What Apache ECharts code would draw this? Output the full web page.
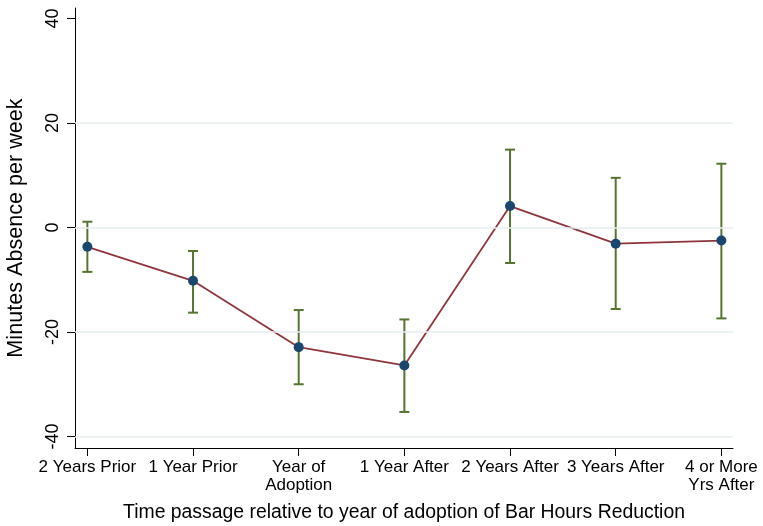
<!DOCTYPE html>
<html>
<head>
<meta charset="utf-8">
<script src="https://cdn.jsdelivr.net/npm/echarts@6/dist/echarts.min.js"></script>
<style>
  html, body { margin: 0; padding: 0; background: #fff; }
  #chart { width: 763px; height: 526px; }
</style>
</head>
<body>
<div id="chart"></div>
<script>
  const categories = ['2 Years Prior', '1 Year Prior', 'Year of\nAdoption', '1 Year After', '2 Years After', '3 Years After', '4 or More\nYrs After'];
  const estimates = [-3.7, -10.2, -22.9, -26.4, 4.1, -3.1, -2.5];
  const upperCI = [1.1, -4.5, -15.8, -17.6, 14.9, 9.5, 12.2];
  const lowerCI = [-8.5, -16.3, -30.0, -35.3, -6.8, -15.6, -17.4];
  const yTicks = [-40, -20, 0, 20, 40];
  const gridValues = [-40, -20, 0, 20];

  const positions = categories.map((c, i) => i);
  const font = 'Liberation Sans, Arial, sans-serif';

  const chart = echarts.init(document.getElementById('chart'));
  chart.setOption({
    animation: false,
    grid: { left: 75, right: 30, top: 8, bottom: 78, outerBoundsMode: 'none' },
    xAxis: {
      type: 'value',
      min: -0.117,
      max: 6.11,
      name: 'Time passage relative to year of adoption of Bar Hours Reduction',
      nameLocation: 'middle',
      nameGap: 55,
      nameTextStyle: { fontFamily: font, fontSize: 19.4, color: '#000' },
      axisLine: { onZero: false, lineStyle: { color: '#000', width: 1 } },
      axisTick: { customValues: positions, length: 8, lineStyle: { color: '#000' } },
      axisLabel: {
        customValues: positions,
        formatter: v => categories[Math.round(v)],
        fontFamily: font, fontSize: 17, color: '#000', lineHeight: 18, margin: 10
      },
      splitLine: { show: false }
    },
    yAxis: {
      type: 'value',
      min: -42.2,
      max: 42,
      name: 'Minutes Absence per week',
      nameLocation: 'middle',
      nameRotate: 90,
      nameGap: 48,
      nameTextStyle: { fontFamily: font, fontSize: 21.6, color: '#000' },
      axisLine: { show: true, onZero: false, lineStyle: { color: '#000', width: 1 } },
      axisTick: { show: true, customValues: yTicks, length: 8, lineStyle: { color: '#000' } },
      axisLabel: {
        customValues: yTicks,
        rotate: 90,
        fontFamily: font, fontSize: 18, color: '#000', margin: 13
      },
      splitLine: { show: false }
    },
    series: [
      {
        type: 'custom',
        z: 2,
        data: positions.map(i => [i, lowerCI[i], upperCI[i]]),
        renderItem: (params, api) => {
          const lo = api.coord([api.value(0), api.value(1)]);
          const hi = api.coord([api.value(0), api.value(2)]);
          const cap = 5;
          const style = { stroke: '#55752F', lineWidth: 2 };
          return {
            type: 'group',
            children: [
              { type: 'line', shape: { x1: lo[0], y1: lo[1], x2: hi[0], y2: hi[1] }, style },
              { type: 'line', shape: { x1: lo[0] - cap, y1: lo[1], x2: lo[0] + cap, y2: lo[1] }, style },
              { type: 'line', shape: { x1: hi[0] - cap, y1: hi[1], x2: hi[0] + cap, y2: hi[1] }, style }
            ]
          };
        },
        markLine: {
          silent: true,
          symbol: 'none',
          label: { show: false },
          lineStyle: { color: '#e6eef1', type: 'solid', width: 1.5 },
          data: gridValues.map(v => ({ yAxis: v }))
        }
      },
      {
        type: 'line',
        z: 3,
        data: positions.map(i => [i, estimates[i]]),
        symbol: 'circle',
        symbolSize: 10,
        itemStyle: { color: '#1A476F' },
        lineStyle: { color: '#90353B', width: 1.8 }
      }
    ]
  });
</script>
</body>
</html>
